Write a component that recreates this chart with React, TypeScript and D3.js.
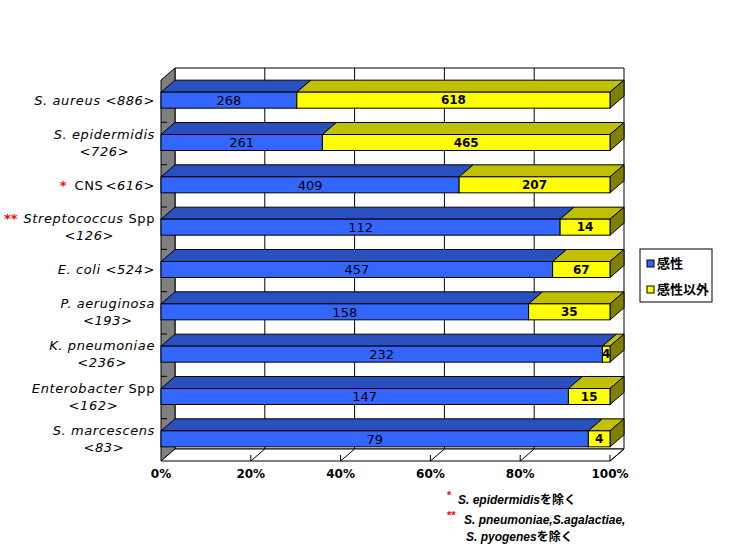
import { useRef, useEffect } from 'react';
import * as d3 from 'd3';

// organisms, top to bottom
const organisms = [
  'S. aureus',
  'S. epidermidis',
  'CNS',
  'Streptococcus',
  'E. coli',
  'P. aeruginosa',
  'K. pneumoniae',
  'Enterobacter',
  'S. marcescens',
];
const totals = [886, 726, 616, 126, 524, 193, 236, 162, 83];
const marks = ['', '', '*', '**', '', '', '', '', ''];
const suffixes = ['', '', '', 'Spp', '', '', '', 'Spp', ''];
const twoLine = [false, true, false, true, false, true, true, true, true];
const italicName = [true, true, false, true, true, true, true, true, true];

const susceptible = [268, 261, 409, 112, 457, 158, 232, 147, 79];
const nonSusceptible = [618, 465, 207, 14, 67, 35, 4, 15, 4];

const seriesNames = ['感性', '感性以外'];
const xTicks = [0, 0.2, 0.4, 0.6, 0.8, 1];

const DX = 14;
const DY = -12;
const FONT = '"DejaVu Sans", "Noto Sans CJK JP", sans-serif';
const JP = '"Noto Sans CJK JP", sans-serif';

const colors = {
  front: ['#3366ff', '#ffff00'],
  top: ['#2a50c0', '#c0c000'],
  side: ['#2040a0', '#808000'],
};

const Chart = () => {
  const svgRef = useRef<SVGSVGElement>(null);

  useEffect(() => {
    if (!svgRef.current) return;
    const svg = d3.select(svgRef.current);
    svg.selectAll('*').remove();

    const x = d3.scaleLinear().domain([0, 1]).range([161, 610]);
    const y = d3.scaleBand().domain(organisms).range([80, 461]);
    const barH = 16;
    const yTop = (name: string) => y(name)! + y.bandwidth() / 2 - barH / 2 - 1;
    const x0 = x(0);
    const x1 = x(1);
    const floorY = y.range()[1];
    const topY = y.range()[0];

    const pts = (p: number[][]) => p.map((d) => d.join(',')).join(' ');

    // walls
    svg
      .append('polygon')
      .attr('points', pts([[x0 + DX, topY + DY], [x1 + DX, topY + DY], [x1 + DX, floorY + DY], [x0 + DX, floorY + DY]]))
      .attr('fill', 'white')
      .attr('stroke', 'black');
    svg
      .append('polygon')
      .attr('points', pts([[x0, topY], [x0 + DX, topY + DY], [x0 + DX, floorY + DY], [x0, floorY]]))
      .attr('fill', '#808080')
      .attr('stroke', 'black');
    svg
      .append('polygon')
      .attr('points', pts([[x0, floorY], [x0 + DX, floorY + DY], [x1 + DX, floorY + DY], [x1, floorY]]))
      .attr('fill', 'white')
      .attr('stroke', 'black');

    // gridlines on the back wall
    svg
      .selectAll('.grid')
      .data(xTicks.slice(1, -1))
      .enter()
      .append('line')
      .attr('x1', (d) => x(d) + DX)
      .attr('x2', (d) => x(d) + DX)
      .attr('y1', topY + DY)
      .attr('y2', floorY + DY)
      .attr('stroke', 'black');

    // floor ticks
    const ft = svg.selectAll('.ftick').data(xTicks.slice(1)).enter().append('g');
    ft.append('line')
      .attr('x1', (d) => x(d))
      .attr('x2', (d) => x(d) + DX)
      .attr('y1', floorY)
      .attr('y2', floorY + DY)
      .attr('stroke', 'black');
    ft.append('line')
      .attr('x1', (d) => x(d))
      .attr('x2', (d) => x(d))
      .attr('y1', floorY)
      .attr('y2', floorY - 6)
      .attr('stroke', 'black');

    // category ticks on the left wall
    svg
      .selectAll('.ctick')
      .data(organisms.slice(1))
      .enter()
      .append('line')
      .attr('x1', x0)
      .attr('x2', x0 + 6)
      .attr('y1', (d) => y(d)!)
      .attr('y2', (d) => y(d)!)
      .attr('stroke', 'black');

    // bars
    organisms.forEach((name, i) => {
      const total = susceptible[i] + nonSusceptible[i];
      const vals = [susceptible[i], nonSusceptible[i]];
      const t = yTop(name);
      const b = t + barH;
      let acc = 0;
      const g = svg.append('g');
      vals.forEach((v, s) => {
        const a = x(acc / total);
        const e = x((acc + v) / total);
        acc += v;
        g.append('polygon')
          .attr('points', pts([[a, t], [a + DX, t + DY], [e + DX, t + DY], [e, t]]))
          .attr('fill', colors.top[s])
          .attr('stroke', 'black')
          .attr('stroke-linejoin', 'round');
        if (s === vals.length - 1) {
          g.append('polygon')
            .attr('points', pts([[e, t], [e + DX, t + DY], [e + DX, b + DY], [e, b]]))
            .attr('fill', colors.side[s])
            .attr('stroke', 'black');
        }
        g.append('rect')
          .attr('x', a)
          .attr('y', t)
          .attr('width', e - a)
          .attr('height', barH)
          .attr('fill', colors.front[s])
          .attr('stroke', 'black');
      });
      acc = 0;
      vals.forEach((v, s) => {
        const a = x(acc / total);
        const e = x((acc + v) / total);
        acc += v;
        g.append('text')
          .attr('x', (a + e) / 2)
          .attr('y', t + barH / 2)
          .attr('dy', '0.36em')
          .attr('text-anchor', 'middle')
          .attr('font-family', FONT)
          .attr('font-size', s === 0 ? 13 : 12)
          .attr('font-weight', s === 0 ? 'normal' : 'bold')
          .text(v);
      });
    });

    // category labels
    const labelX = 155;
    organisms.forEach((name, i) => {
      const cy = yTop(name) + barH / 2;
      const lines = twoLine[i] ? [cy - 8.5, cy + 8.5] : [cy];
      const t1 = svg
        .append('text')
        .attr('x', labelX)
        .attr('y', lines[0])
        .attr('dy', '0.36em')
        .attr('text-anchor', 'end')
        .attr('font-family', FONT)
        .attr('font-size', 13)
        .attr('letter-spacing', 0.6);
      t1.append('tspan')
        .attr('font-style', italicName[i] ? 'italic' : 'normal')
        .text(name);
      if (suffixes[i]) t1.append('tspan').text(' ' + suffixes[i]);
      if (!twoLine[i]) {
        t1.append('tspan').attr('font-style', 'italic').attr('dx', name === 'CNS' ? 2 : 0)
          .text((name === 'CNS' ? '' : ' ') + `<${totals[i]}>`);
      }
      const w = (t1.node() as SVGTextElement).getComputedTextLength();
      if (twoLine[i]) {
        svg
          .append('text')
          .attr('x', labelX - w / 2)
          .attr('y', lines[1])
          .attr('dy', '0.36em')
          .attr('text-anchor', 'middle')
          .attr('font-family', FONT)
          .attr('font-size', 13)
          .attr('letter-spacing', 0.6)
          .attr('font-style', 'italic')
          .text(`<${totals[i]}>`);
      }
      if (marks[i]) {
        svg
          .append('text')
          .attr('x', labelX - w - (marks[i].length > 1 ? 6 : 10))
          .attr('y', lines[0])
          .attr('dy', '0.36em')
          .attr('text-anchor', 'end')
          .attr('font-family', FONT)
          .attr('font-size', 13)
          .attr('font-weight', 'bold')
          .attr('fill', 'red')
          .text(marks[i]);
      }
    });

    // x axis labels
    svg
      .selectAll('.xl')
      .data(xTicks)
      .enter()
      .append('text')
      .attr('x', (d) => x(d))
      .attr('y', 474)
      .attr('dy', '0.36em')
      .attr('text-anchor', 'middle')
      .attr('font-family', FONT)
      .attr('font-size', 12)
      .attr('font-weight', 'bold')
      .text((d) => d3.format('.0%')(d));

    // legend
    const lg = svg.append('g').attr('transform', 'translate(640,249)');
    lg.append('rect').attr('width', 72).attr('height', 53).attr('fill', 'white').attr('stroke', 'black');
    const li = lg
      .selectAll('.li')
      .data(seriesNames)
      .enter()
      .append('g')
      .attr('transform', (_d, i) => `translate(7, ${11 + i * 26})`);
    li.append('rect')
      .attr('width', 7)
      .attr('height', 7)
      .attr('fill', (_d, i) => colors.front[i])
      .attr('stroke', 'black');
    li.append('text')
      .attr('x', 10)
      .attr('y', 3.5)
      .attr('dy', '0.36em')
      .attr('font-family', JP)
      .attr('font-size', 13)
      .attr('font-weight', 'bold')
      .text((d) => d);

    // footnotes
    const NOTE = '"Liberation Sans", Arial, sans-serif';
    const notes = [
      { mark: '*', mx: 447, tx: 458, y: 500, parts: ['S. epidermidis', 'を除く'] },
      { mark: '**', mx: 447, tx: 464, y: 520, parts: ['S. pneumoniae,S.agalactiae,', ''] },
      { mark: '', mx: 0, tx: 466, y: 537, parts: ['S. pyogenes', 'を除く'] },
    ];
    notes.forEach((n) => {
      if (n.mark) {
        svg
          .append('text')
          .attr('x', n.mx)
          .attr('y', n.y - 5)
          .attr('dy', '0.36em')
          .attr('font-family', NOTE)
          .attr('font-size', 11)
          .attr('font-weight', 'bold')
          .attr('fill', 'red')
          .text(n.mark);
      }
      const t = svg
        .append('text')
        .attr('x', n.tx)
        .attr('y', n.y)
        .attr('dy', '0.36em')
        .attr('font-size', 12)
        .attr('font-weight', 'bold');
      t.append('tspan').attr('font-family', NOTE).attr('font-style', 'italic').text(n.parts[0]);
      if (n.parts[1]) t.append('tspan').attr('font-family', JP).text(n.parts[1]);
    });
  }, []);

  return (
    <svg
      ref={svgRef}
      width={730}
      height={551}
      style={{ position: 'absolute', left: 0, top: 0, background: 'white' }}
    ></svg>
  );
};

export default function App() {
  return <Chart />;
}
